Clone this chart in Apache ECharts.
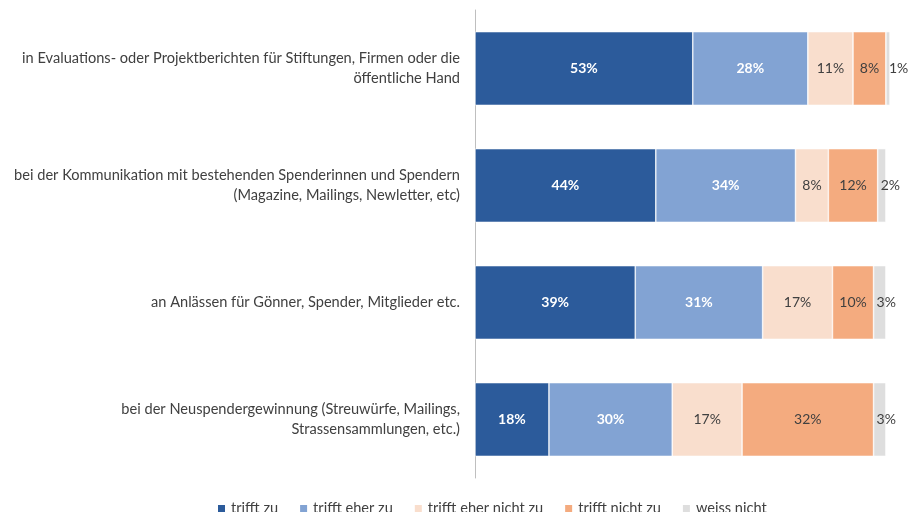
<!DOCTYPE html>
<html><head><meta charset="utf-8">
<script src="https://cdn.jsdelivr.net/npm/echarts@6/dist/echarts.min.js"></script>
<style>html,body{margin:0;padding:0;background:#fff}#c{width:909px;height:512px}</style>
</head><body><div id="c"></div>
<script>
const categories = [
  "in Evaluations- oder Projektberichten für Stiftungen, Firmen oder die\nöffentliche Hand",
  "bei der Kommunikation mit bestehenden Spenderinnen und Spendern\n(Magazine, Mailings, Newletter, etc)",
  "an Anlässen für Gönner, Spender, Mitglieder etc.",
  "bei der Neuspendergewinnung (Streuwürfe, Mailings,\nStrassensammlungen, etc.)"
];
const seriesNames = ["trifft zu","trifft eher zu","trifft eher nicht zu","trifft nicht zu","weiss nicht"];
const triffZu = [53,44,39,18];
const eherZu = [28,34,31,30];
const eherNicht = [11,8,17,17];
const nichtZu = [8,12,10,32];
const weissNicht = [1,2,3,3];
const colors = ["#2C5B9B","#82A3D3","#F9DECD","#F4AB7F","#DEDEDE"];
const values = [triffZu, eherZu, eherNicht, nichtZu, weissNicht];

const font = "Lato, 'Open Sans', sans-serif";
const chart = echarts.init(document.getElementById('c'));
const series = values.map((vals, i) => ({
  name: seriesNames[i],
  type: 'bar',
  stack: 'total',
  barWidth: '63%',
  data: vals.slice().reverse(),
  itemStyle: {color: colors[i], borderColor: '#fff', borderWidth: 0.6},
  label: {
    show: true,
    position: i === 4 ? 'insideLeft' : 'inside',
    distance: i === 4 ? 3 : 5,
    formatter: p => p.value + '%',
    fontFamily: font,
    fontSize: 14,
    fontWeight: i < 2 ? 'bold' : 'normal',
    color: i < 2 ? '#ffffff' : '#404040'
  },
  labelLayout: {hideOverlap: false}
}));
chart.setOption({
  animation: false,
  grid: {left: 475, right: 19, top: 10, bottom: 34},
  legend: {
    data: seriesNames,
    top: 496, left: 211,
    itemWidth: 9, itemHeight: 9, itemGap: 20,
    icon: 'rect',
    textStyle: {fontFamily: font, fontSize: 14.6, color: '#404040'}
  },
  xAxis: {type: 'value', min: 0, max: 101, show: false},
  yAxis: {
    type: 'category',
    data: categories.slice().reverse(),
    axisLine: {show: true, lineStyle: {color: '#BFBFBF', width: 1}},
    axisTick: {show: false},
    axisLabel: {fontFamily: font, fontSize: 14.6, color: '#404040', lineHeight: 20, margin: 15, align: 'right'}
  },
  series: series
});
</script></body></html>
